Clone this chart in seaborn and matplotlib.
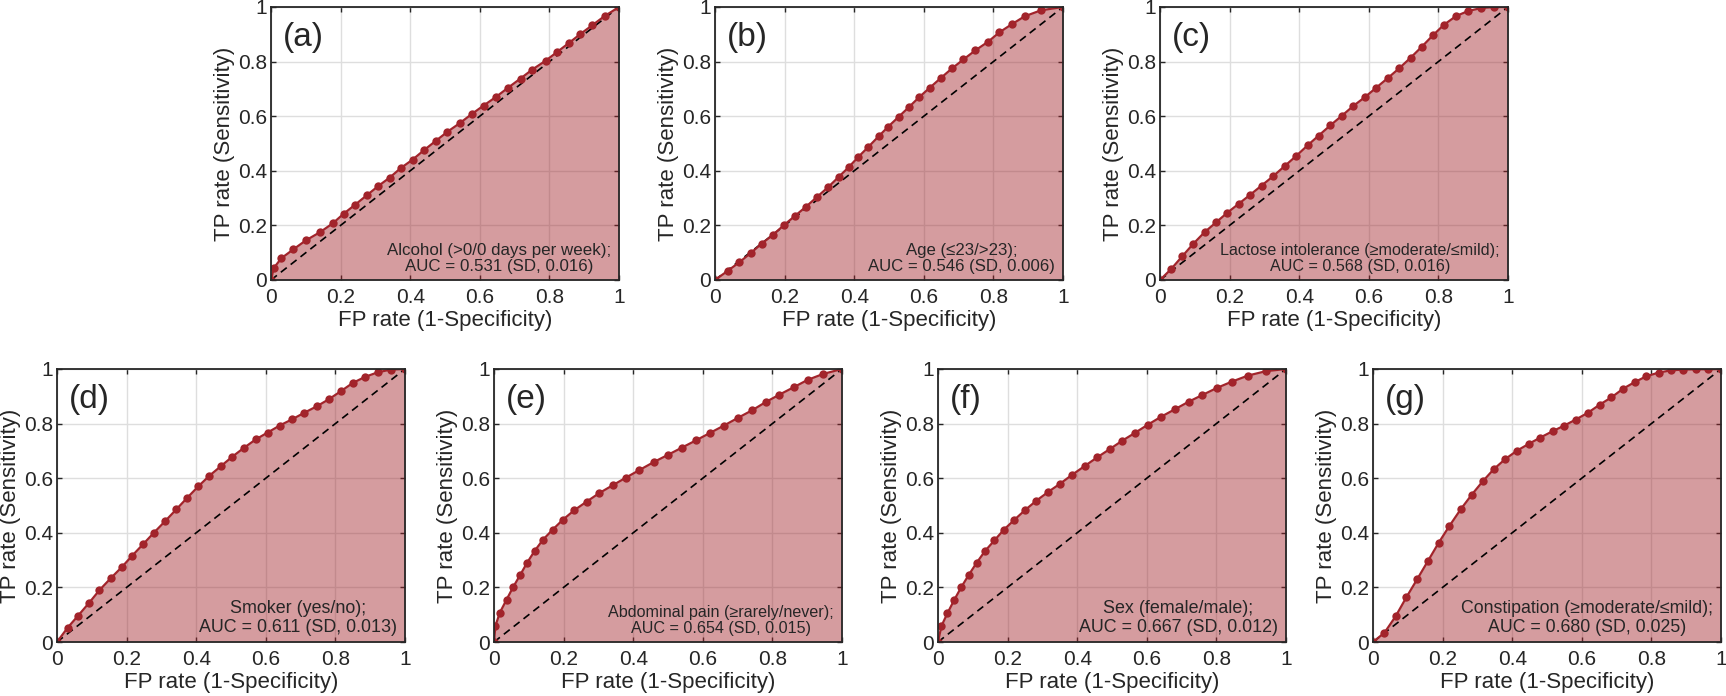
import numpy as np
import pandas as pd
import seaborn as sns
import matplotlib
matplotlib.use("Agg")
import matplotlib.pyplot as plt
from matplotlib.ticker import FuncFormatter

# ROC points (FP rate, TP rate)
fpr_a = [0, 0.008, 0.03, 0.064, 0.10, 0.142, 0.178, 0.209, 0.242, 0.275, 0.308, 0.341, 0.373, 0.407, 0.44, 0.473,
         0.507, 0.543, 0.577, 0.611, 0.647, 0.682, 0.717, 0.751, 0.789, 0.823, 0.857, 0.889, 0.923, 0.959, 1.0]
tpr_a = [0, 0.044, 0.08, 0.112, 0.145, 0.176, 0.208, 0.243, 0.276, 0.31, 0.344, 0.375, 0.41, 0.441, 0.476, 0.509,
         0.543, 0.575, 0.608, 0.639, 0.671, 0.705, 0.738, 0.771, 0.803, 0.836, 0.869, 0.901, 0.933, 0.967, 1.0]

fpr_b = [0, 0.036, 0.07, 0.103, 0.134, 0.167, 0.199, 0.231, 0.262, 0.293, 0.325, 0.355, 0.384, 0.412, 0.441, 0.47,
         0.498, 0.528, 0.557, 0.587, 0.617, 0.649, 0.681, 0.714, 0.748, 0.785, 0.817, 0.853, 0.89, 0.937, 1.0]
tpr_b = [0, 0.033, 0.065, 0.099, 0.133, 0.166, 0.202, 0.236, 0.269, 0.304, 0.34, 0.377, 0.413, 0.451, 0.488, 0.526,
         0.562, 0.598, 0.633, 0.67, 0.704, 0.74, 0.775, 0.808, 0.841, 0.873, 0.907, 0.937, 0.966, 0.988, 1.0]

fpr_c = [0, 0.032, 0.064, 0.096, 0.128, 0.161, 0.193, 0.226, 0.259, 0.292, 0.325, 0.358, 0.391, 0.424, 0.456, 0.489,
         0.522, 0.555, 0.589, 0.621, 0.654, 0.687, 0.72, 0.752, 0.784, 0.816, 0.851, 0.885, 0.922, 0.959, 1.0]
tpr_c = [0, 0.04, 0.087, 0.133, 0.175, 0.211, 0.246, 0.279, 0.312, 0.346, 0.38, 0.417, 0.454, 0.493, 0.529, 0.566,
         0.601, 0.637, 0.67, 0.704, 0.739, 0.775, 0.814, 0.854, 0.896, 0.935, 0.967, 0.985, 0.996, 1.0, 1.0]

fpr_d = [0, 0.031, 0.061, 0.092, 0.122, 0.154, 0.186, 0.216, 0.248, 0.279, 0.311, 0.343, 0.374, 0.406, 0.437, 0.47,
         0.503, 0.537, 0.571, 0.605, 0.64, 0.676, 0.711, 0.746, 0.781, 0.815, 0.85, 0.885, 0.922, 0.96, 1.0]
tpr_d = [0, 0.053, 0.097, 0.143, 0.19, 0.233, 0.274, 0.316, 0.359, 0.401, 0.443, 0.486, 0.528, 0.57, 0.608, 0.643,
         0.678, 0.711, 0.742, 0.767, 0.793, 0.816, 0.84, 0.863, 0.889, 0.918, 0.949, 0.971, 0.988, 0.998, 1.0]

fpr_e = [0, 0.004, 0.017, 0.036, 0.055, 0.075, 0.095, 0.117, 0.141, 0.169, 0.198, 0.23, 0.266, 0.302, 0.341, 0.379,
         0.418, 0.459, 0.499, 0.54, 0.581, 0.621, 0.661, 0.701, 0.742, 0.781, 0.82, 0.861, 0.901, 0.946, 1.0]
tpr_e = [0, 0.059, 0.108, 0.155, 0.201, 0.245, 0.29, 0.334, 0.375, 0.412, 0.448, 0.482, 0.514, 0.545, 0.574, 0.602,
         0.63, 0.659, 0.685, 0.712, 0.739, 0.766, 0.793, 0.821, 0.849, 0.879, 0.906, 0.933, 0.96, 0.982, 1.0]

fpr_f = [0, 0.01, 0.027, 0.047, 0.067, 0.088, 0.111, 0.135, 0.162, 0.189, 0.219, 0.25, 0.283, 0.317, 0.351, 0.386,
         0.421, 0.457, 0.493, 0.529, 0.566, 0.603, 0.641, 0.68, 0.72, 0.76, 0.802, 0.845, 0.891, 0.942, 1.0]
tpr_f = [0, 0.059, 0.105, 0.155, 0.201, 0.245, 0.29, 0.333, 0.372, 0.411, 0.447, 0.483, 0.518, 0.55, 0.58, 0.613,
         0.644, 0.676, 0.706, 0.737, 0.766, 0.796, 0.825, 0.852, 0.88, 0.905, 0.931, 0.954, 0.976, 0.992, 1.0]

fpr_g = [0, 0.033, 0.065, 0.096, 0.127, 0.158, 0.189, 0.219, 0.252, 0.284, 0.315, 0.347, 0.38, 0.414, 0.448, 0.481,
         0.516, 0.55, 0.583, 0.618, 0.651, 0.685, 0.719, 0.752, 0.785, 0.821, 0.856, 0.892, 0.928, 0.963, 1.0]
tpr_g = [0, 0.034, 0.094, 0.164, 0.23, 0.297, 0.364, 0.424, 0.486, 0.54, 0.588, 0.633, 0.67, 0.701, 0.726, 0.749,
         0.772, 0.793, 0.815, 0.84, 0.869, 0.896, 0.928, 0.952, 0.973, 0.987, 0.995, 0.998, 0.999, 0.999, 1.0]

panel_tags = ["(a)", "(b)", "(c)", "(d)", "(e)", "(f)", "(g)"]
captions = [
    "Alcohol (>0/0 days per week);\nAUC = 0.531 (SD, 0.016)",
    "Age (\u226423/>23);\nAUC = 0.546 (SD, 0.006)",
    "Lactose intolerance (\u2265moderate/\u2264mild);\nAUC = 0.568 (SD, 0.016)",
    "Smoker (yes/no);\nAUC = 0.611 (SD, 0.013)",
    "Abdominal pain (\u2265rarely/never);\nAUC = 0.654 (SD, 0.015)",
    "Sex (female/male);\nAUC = 0.667 (SD, 0.012)",
    "Constipation (\u2265moderate/\u2264mild);\nAUC = 0.680 (SD, 0.025)",
]
curves = [(fpr_a, tpr_a), (fpr_b, tpr_b), (fpr_c, tpr_c), (fpr_d, tpr_d),
          (fpr_e, tpr_e), (fpr_f, tpr_f), (fpr_g, tpr_g)]

# the panels were pasted in at slightly different scales, so caption sizes differ a bit
caption_sizes = [12.2, 12.1, 11.6, 12.9, 11.6, 12.9, 12.8]

sns.set_style("ticks")
plt.rcParams["font.family"] = ["Liberation Sans", "DejaVu Sans"]

red = "#A2242B"
W, H = 1726, 696
fig = plt.figure(figsize=(W / 100, H / 100), dpi=100)

# axes boxes in pixels: left, top
boxes = [(271, 7), (715, 7), (1160, 7), (57, 369), (494, 369), (938, 369), (1373, 369)]
aw, ah = 348, 273

fmt = FuncFormatter(lambda v, p: "%g" % round(v, 2))

for i, (fx, ty) in enumerate(curves):
    left, top = boxes[i]
    ax = fig.add_axes([left / W, (H - top - ah) / H, aw / W, ah / H])
    df = pd.DataFrame({"fpr": fx, "tpr": ty})
    ax.grid(True, color="#dedede", linewidth=1.0, zorder=0)
    ax.set_axisbelow(True)
    ax.fill_between(df["fpr"], 0, df["tpr"], color=red, alpha=0.45, linewidth=0, zorder=1)
    ax.plot([0, 1], [0, 1], color="black", linewidth=1.2, dashes=(4.5, 3), zorder=2)
    sns.lineplot(data=df, x="fpr", y="tpr", ax=ax, sort=False, estimator=None, color=red,
                 linewidth=1.6, marker="o", markersize=6, markeredgewidth=0, zorder=3)
    ax.set_xlim(0, 1)
    ax.set_ylim(0, 1)
    ticks = np.arange(0, 1.01, 0.2)
    ax.set_xticks(ticks)
    ax.set_yticks(ticks)
    ax.xaxis.set_major_formatter(fmt)
    ax.yaxis.set_major_formatter(fmt)
    ax.tick_params(direction="in", length=3.5, width=1, top=True, right=True,
                   labelsize=15, colors="#262626")
    ax.tick_params(axis="x", pad=6)
    ax.tick_params(axis="y", pad=3)
    for s in ax.spines.values():
        s.set_visible(True)
        s.set_color("#262626")
        s.set_linewidth(1.3)
        s.set_zorder(5)
    ax.set_xlabel("FP rate (1-Specificity)", fontsize=16, labelpad=2, color="#262626")
    ax.set_ylabel("TP rate (Sensitivity)", fontsize=16, labelpad=2, color="#262626")
    ax.text(0.035, 0.89, panel_tags[i], transform=ax.transAxes, fontsize=24,
            ha="left", va="center", zorder=6)
    ax.text(0.977, 0.022, captions[i], transform=ax.transAxes, fontsize=caption_sizes[i],
            ha="right", va="bottom", multialignment="center", linespacing=1.12, zorder=6)

fig.savefig("out.png", dpi=100)
